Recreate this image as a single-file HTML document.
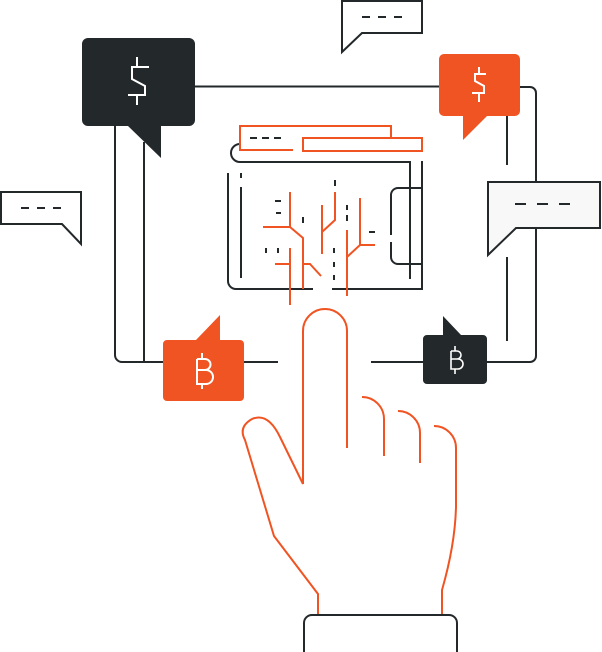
<!DOCTYPE html>
<html><head><style>html,body{margin:0;padding:0;background:#fff;width:602px;height:652px;overflow:hidden}</style></head>
<body>
<svg width="602" height="652" viewBox="0 0 602 652" xmlns="http://www.w3.org/2000/svg" fill="none" stroke-width="2">
<g stroke="#23282b">
<path d="M195 86.5H440"/>
<path d="M520 87H530a6 6 0 0 1 6 6V356a6 6 0 0 1-6 6H487"/>
<path d="M507 116V165M507 257V341"/>
<path d="M371 362H423"/>
<path d="M115 126V355a7 7 0 0 0 7 7H278"/>
<path d="M144 142V362"/>
<path d="M342 1H422V33H362L342 52Z" fill="#fff"/>
<path d="M362 17H403" stroke-dasharray="8 8"/>
<path d="M1 192H81V244L62 224H1Z" fill="#fff"/>
<path d="M21 208H62" stroke-dasharray="8 8"/>
<path d="M488 182H600V228H516L488 255Z" fill="#f8f8f8"/>
<path d="M515 204H575" stroke-dasharray="11 11"/>
<path d="M240 144a9 9 0 0 0 0 18H410V279"/>
<path d="M422 161V289H332M313 289H236a8 8 0 0 1-8-8V173"/>
<path d="M241 173V178M241 187V278"/>
<path d="M422 188H398a7 7 0 0 0-7 7V235M391 242V257a7 7 0 0 0 7 7H422"/>
<path d="M335 180V186M347 205V210M347 215V221M303 217V223M275 201H281M276 213H281M266 248V253M278 248V253M334 248V253M334 262V267M334 275V280M369 232H375"/>
<path d="M250 138H282" stroke-dasharray="7 5"/>
<path d="M304 652V623a8 8 0 0 1 8-8H449a8 8 0 0 1 8 8V652"/>
</g>
<path d="M88 38H189a6 6 0 0 1 6 6V120a6 6 0 0 1-6 6H161V158L128 126H88a6 6 0 0 1-6-6V44a6 6 0 0 1 6-6Z" fill="#23282b"/>
<path d="M137 57V67M149 67H132V79L145 86V95H128M137 95V105" stroke="#fff" fill="none"/>
<path d="M444 54H515a5 5 0 0 1 5 5V111a5 5 0 0 1-5 5H487L463 140V116H444a5 5 0 0 1-5-5V59a5 5 0 0 1 5-5Z" fill="#f05423"/>
<path d="M479 67V74M486 74H475V81L484 86V93H472M479 93V102" stroke="#fff"/>
<path d="M167 340H196L220 315V340H240a4 4 0 0 1 4 4V397a4 4 0 0 1-4 4H167a4 4 0 0 1-4-4V344a4 4 0 0 1 4-4Z" fill="#f05423"/>
<path d="M202 353V359M202 384V389M197 359H205a5 5 0 0 1 0 11H197M197 370H206a6 6 0 0 1 0 14H197V359" stroke="#fff"/>
<path d="M427 335H443V316L461 335H483a4 4 0 0 1 4 4V380a4 4 0 0 1-4 4H427a4 4 0 0 1-4-4V339a4 4 0 0 1 4-4Z" fill="#23282b"/>
<path d="M455 346V351M455 369V374M451 351H457a4 4 0 0 1 0 8H451M451 359H458a5 5 0 0 1 0 10H451V351" stroke="#fff" stroke-width="1.6"/>
<g stroke="#f05423">
<path d="M293 150H240V126H391V138"/>
<path d="M303 138H422V151H303Z"/>
<path d="M290 192V227H263M290 227L303 238V289"/>
<path d="M290 248V305M275 264H290"/>
<path d="M303 264H310L321 276"/>
<path d="M322 205V254M322 232L335 220V192"/>
<path d="M347 230V296M347 257L360 245H375M360 198V245"/>
<path d="M303 484V331a22 22 0 0 1 44 0V448"/>
<path d="M362 397a22 22 0 0 1 22 22V456"/>
<path d="M398 411a22 22 0 0 1 22 22V463"/>
<path d="M434 426a22 22 0 0 1 22 22V507Q455 545 442 590V614"/>
<path d="M303 484L280 437Q268 412 252 419Q238 427 245 440L274 536L318 594V614"/>
</g>
</svg>
</body></html>
